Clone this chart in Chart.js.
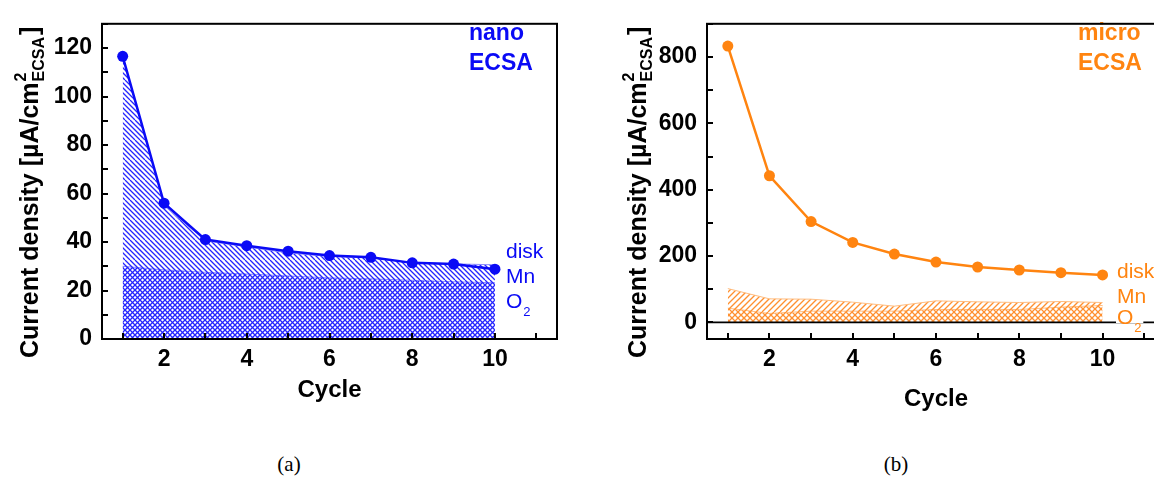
<!DOCTYPE html>
<html>
<head>
<meta charset="utf-8">
<script src="https://cdn.jsdelivr.net/npm/chart.js@4.4.1/dist/chart.umd.min.js"></script>
<style>
  html, body { margin: 0; padding: 0; background: #fff; width: 1154px; height: 479px; overflow: hidden; position: relative; }
  canvas { position: absolute; top: 0; }
  #nano { left: 0; }
  #micro { left: 600px; }
  .cap { position: absolute; top: 452px; font-family: "Liberation Serif", "DejaVu Serif", serif; font-size: 21px; transform: translateX(-50%); }
</style>
</head>
<body>
<canvas id="nano" width="600" height="420"></canvas>
<canvas id="micro" width="600" height="420"></canvas>
<div class="cap" style="left:289px">(a)</div>
<div class="cap" style="left:896px">(b)</div>
<script>
  "use strict";

  // data
  var cycles = [1, 2, 3, 4, 5, 6, 7, 8, 9, 10];

  var nanoDisk = [116.6, 56.0, 41.0, 38.5, 36.2, 34.4, 33.7, 31.4, 30.9, 28.8];
  var nanoMn   = [116.6, 55.0, 40.5, 38.0, 35.5, 34.0, 33.5, 31.5, 31.0, 30.6];
  var nanoO2   = [30.0, 28.5, 27.5, 26.8, 26.0, 25.2, 24.8, 24.2, 23.6, 23.2];

  var microDisk = [833, 442, 304, 241, 206, 182, 167, 158, 150, 143];
  var microMn   = [102, 71, 70, 61, 49, 65, 62, 60, 63, 60];
  var microO2   = [43, 27, 34, 34, 34, 39, 39, 39, 46, 51];

  var xLabels = [2, 4, 6, 8, 10];
  var nanoYLabels = [0, 20, 40, 60, 80, 100, 120];
  var microYLabels = [0, 200, 400, 600, 800];

  var sans = '"Liberation Sans", Arial, sans-serif';
  Chart.defaults.font.family = sans;
  Chart.defaults.color = '#000';

  var series = function(vals) {
    return cycles.map(function(c, i) { return { x: c, y: vals[i] }; });
  }

  // diagonal hatch pattern, dir "\\" or "/"
  var hatch = function(color, dir, gap) {
    var n = gap * 4;
    var c = document.createElement('canvas');
    c.width = n; c.height = n;
    var g = c.getContext('2d');
    g.strokeStyle = color;
    g.lineWidth = 1.3;
    g.beginPath();
    for (var k = -n; k <= n; k += gap) {
      if (dir === '\\') { g.moveTo(k, 0); g.lineTo(k + n, n); }
      else { g.moveTo(k, n); g.lineTo(k + n, 0); }
    }
    g.stroke();
    return g.createPattern(c, 'repeat');
  }

  // box + inward ticks
  var frame = {
    id: 'frame',
    afterDraw: function(chart) {
      var ctx = chart.ctx, a = chart.chartArea, x = chart.scales.x, y = chart.scales.y;
      ctx.save();
      ctx.strokeStyle = '#000';
      ctx.lineWidth = 2;
      ctx.strokeRect(a.left, a.top, a.right - a.left, a.bottom - a.top);
      ctx.beginPath();
      x.ticks.forEach(function(t) {
        var px = Math.round(x.getPixelForValue(t.value));
        ctx.moveTo(px, a.bottom); ctx.lineTo(px, a.bottom - 6);
      });
      y.ticks.forEach(function(t) {
        var py = Math.round(y.getPixelForValue(t.value));
        ctx.moveTo(a.left, py); ctx.lineTo(a.left + 6, py);
      });
      ctx.stroke();
      ctx.restore();
    }
  };

  // y title with super/subscript, tag text and curve labels
  var notes = function(o) {
    return {
      id: 'notes',
      afterDatasetsDraw: function(chart) {
        var ctx = chart.ctx, a = chart.chartArea, y = chart.scales.y;
        ctx.save();

        if (o.zeroLine) {
          var py = y.getPixelForValue(0);
          ctx.strokeStyle = '#000';
          ctx.lineWidth = 1.6;
          ctx.beginPath();
          ctx.moveTo(a.left, py); ctx.lineTo(a.right, py);
          ctx.stroke();
        }

        ctx.textAlign = 'left';
        ctx.textBaseline = 'middle';
        ctx.fillStyle = o.color;
        ctx.font = 'bold 23px ' + sans;
        ctx.fillText(o.tag, o.tagX, 34);
        ctx.fillText('ECSA', o.tagX, 64);

        ctx.font = '21px ' + sans;
        ctx.fillText('disk', o.lblX, o.lblY[0]);
        ctx.fillText('Mn', o.lblX, o.lblY[1]);
        var ow = ctx.measureText('O').width;
        if (o.zeroLine) {
          ctx.fillStyle = '#fff';
          ctx.fillRect(o.lblX - 1, o.lblY[2] - 9, ow + 11, 14);
          ctx.fillStyle = o.color;
        }
        ctx.fillText('O', o.lblX, o.lblY[2]);
        ctx.font = '13px ' + sans;
        ctx.fillText('2', o.lblX + ow + 1, o.lblY[2] + 10);

        // rotated y title
        ctx.translate(o.titleX, 358);
        ctx.rotate(-Math.PI / 2);
        ctx.fillStyle = '#000';
        ctx.textBaseline = 'alphabetic';
        ctx.font = 'bold 25px ' + sans;
        var main = 'Current density [\u00b5A/cm';
        ctx.fillText(main, 0, 0);
        var w = ctx.measureText(main).width + 1;
        ctx.font = 'bold 16px ' + sans;
        ctx.fillText('2', w, -12);
        ctx.fillText('ECSA', w, 6);
        w += ctx.measureText('ECSA').width + 2;
        ctx.font = 'bold 25px ' + sans;
        ctx.fillText(']', w, 0);

        ctx.restore();
      }
    };
  }

  var makeChart = function(id, o) {
    new Chart(id, {
      type: 'line',
      data: {
        datasets: [{
          label: 'disk',
          data: series(o.disk),
          borderColor: o.color,
          backgroundColor: o.color,
          borderWidth: 2.5,
          pointRadius: 5.5,
          pointBorderWidth: 0,
          fill: false
        }, {
          label: 'Mn',
          data: series(o.mn),
          borderColor: o.edge,
          borderWidth: 1,
          pointRadius: 0,
          backgroundColor: hatch(o.hatchColor, o.upperDir, o.gap),
          fill: 'origin'
        }, {
          label: 'O2',
          data: series(o.o2),
          borderColor: o.edge,
          borderWidth: 1,
          pointRadius: 0,
          backgroundColor: hatch(o.hatchColor, o.upperDir === '\\' ? '/' : '\\', o.gap),
          fill: 'origin'
        }]
      },
      options: {
        responsive: false,
        animation: false,
        layout: { padding: { top: 14, right: o.padRight, left: 0, bottom: 0 } },
        plugins: { legend: { display: false }, tooltip: { enabled: false } },
        scales: {
          x: {
            type: 'linear', min: 0.5, max: 11.5,
            grid: { display: false, drawTicks: false },
            border: { display: false },
            afterBuildTicks: function(s) {
              var t = [];
              for (var v = Math.ceil(s.min); v <= s.max; v++) t.push({ value: v });
              s.ticks = t;
            },
            ticks: {
              autoSkip: false, maxRotation: 0, padding: 7,
              font: { size: 23, weight: 'bold' },
              callback: function(v) { return xLabels.indexOf(v) >= 0 ? String(v) : ''; }
            },
            title: { display: true, text: 'Cycle', font: { size: 24, weight: 'bold' }, padding: { top: 0, bottom: o.cycleBottom } },
            afterFit: function(s) { s.height = 81; }
          },
          y: {
            type: 'linear', min: o.yMin, max: o.yMax,
            grid: { display: false, drawTicks: false },
            border: { display: false },
            ticks: {
              stepSize: o.yStep, includeBounds: false, autoSkip: false, padding: 10,
              font: { size: 23, weight: 'bold' },
              callback: function(v) { return o.yLabels.indexOf(v) >= 0 ? String(v) : ''; }
            },
            afterFit: function(s) { s.width = o.yWidth; }
          }
        }
      },
      plugins: [notes(o), frame]
    });
  }

  makeChart('nano', {
    color: '#0a0af5', edge: '#8c8cff', hatchColor: '#2424ff', upperDir: '\\', gap: 5,
    disk: nanoDisk, mn: nanoMn, o2: nanoO2,
    yMin: 0, yMax: 130, yStep: 10, yLabels: nanoYLabels, yWidth: 102, padRight: 43,
    cycleBottom: 15, tag: 'nano', tagX: 469, lblX: 506, lblY: [252, 277, 302],
    titleX: 38, zeroLine: false
  });

  makeChart('micro', {
    color: '#ff8410', edge: '#ffbd80', hatchColor: '#ff9030', upperDir: '/', gap: 6,
    disk: microDisk, mn: microMn, o2: microO2,
    yMin: -50, yMax: 900, yStep: 100, yLabels: microYLabels, yWidth: 107, padRight: 35,
    cycleBottom: 6, tag: 'micro', tagX: 478, lblX: 517, lblY: [272, 297, 318],
    titleX: 46, zeroLine: true
  });
</script>
</body>
</html>
